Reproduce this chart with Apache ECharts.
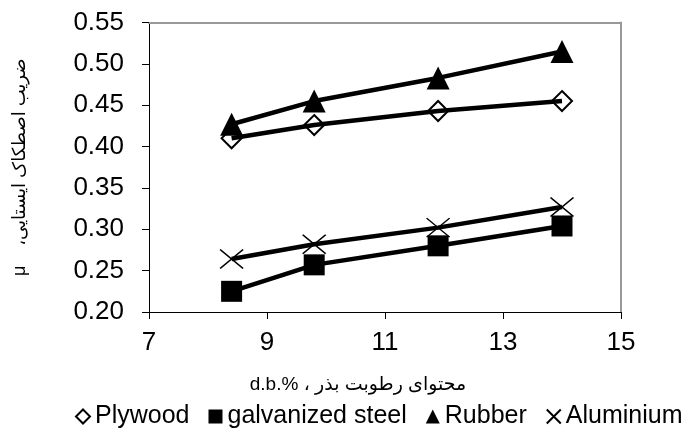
<!DOCTYPE html>
<html>
<head>
<meta charset="utf-8">
<script src="https://cdn.jsdelivr.net/npm/echarts@6/dist/echarts.min.js"></script>
<style>html,body{margin:0;padding:0;background:#fff}#c{width:693px;height:442px}</style>
</head>
<body>
<div id="c"></div>
<script>
var moisture = [8.4, 9.8, 11.9, 14.0];
var plywood = [0.410, 0.426, 0.443, 0.455];
var galvanized = [0.225, 0.257, 0.280, 0.304];
var rubber = [0.427, 0.455, 0.483, 0.515];
var aluminium = [0.264, 0.282, 0.302, 0.327];
var seriesNames = ['Plywood', 'galvanized steel', 'Rubber', 'Aluminium'];
var xTicks = [7, 9, 11, 13, 15];
var yTicks = [0.20, 0.25, 0.30, 0.35, 0.40, 0.45, 0.50, 0.55];
var xName = 'd.b.% \u060C محتوای رطوبت بذر';
var yName = 'μ    ضریب اصطکاک ایستایی\u060C\u200F';

var FONT = "'Liberation Sans', Arial, 'DejaVu Sans', sans-serif";
var XPATH = 'path://M0,0L20,20M20,0L0,20';

function pairs(ys) { return moisture.map(function (x, i) { return [x, ys[i]]; }); }

var chart = echarts.init(document.getElementById('c'), null, { renderer: 'canvas' });
var lineStyle = { color: '#000', width: 4.5 };
chart.setOption({
  animation: false,
  backgroundColor: '#fff',
  textStyle: { fontFamily: FONT, color: '#000' },
  grid: { left: 149, right: 72, top: 22.5, bottom: 130, containLabel: false },
  xAxis: [{
    type: 'value', min: xTicks[0], max: xTicks[xTicks.length - 1], interval: 2,
    name: xName, nameLocation: 'middle', nameGap: 63,
    nameTextStyle: { fontSize: 19, color: '#000', fontFamily: FONT, padding: [0, 54, 0, 0] },
    axisLine: { show: true, lineStyle: { color: '#000', width: 1 } },
    axisTick: { show: true, length: 7, inside: false, lineStyle: { color: '#000' } },
    axisLabel: { fontSize: 26, color: '#000', margin: 18, fontFamily: FONT },
    splitLine: { show: false }
  }, {
    type: 'value', position: 'top', min: xTicks[0], max: xTicks[xTicks.length - 1],
    axisLine: { show: true, lineStyle: { color: '#999', width: 2 } },
    axisTick: { show: false }, axisLabel: { show: false }, splitLine: { show: false }
  }],
  yAxis: [{
    type: 'value', min: 0.20, max: 0.55, interval: 0.05,
    name: yName, nameLocation: 'middle', nameGap: 120, nameRotate: 90,
    nameTextStyle: { fontSize: 18, color: '#000', fontFamily: FONT },
    axisLine: { show: true, lineStyle: { color: '#000', width: 1 } },
    axisTick: { show: true, length: 7, inside: false, lineStyle: { color: '#000' } },
    axisLabel: { fontSize: 26, color: '#000', margin: 25, fontFamily: FONT,
      formatter: function (v) { return v.toFixed(2); } },
    splitLine: { show: false }
  }, {
    type: 'value', position: 'right', min: 0.20, max: 0.55,
    axisLine: { show: true, lineStyle: { color: '#999', width: 2 } },
    axisTick: { show: false }, axisLabel: { show: false }, splitLine: { show: false }
  }],
  legend: {
    left: 75, right: 0, top: 404, padding: 0, itemWidth: 14, itemHeight: 14, itemGap: 19,
    textStyle: { fontSize: 25, color: '#000', fontFamily: FONT },
    data: [
      { name: seriesNames[0], icon: 'diamond' },
      { name: seriesNames[1], icon: 'rect' },
      { name: seriesNames[2], icon: 'triangle' },
      { name: seriesNames[3], icon: XPATH }
    ]
  },
  series: [
    { name: seriesNames[0], type: 'line', data: pairs(plywood), symbol: 'diamond', symbolSize: 20,
      lineStyle: lineStyle, z: 3,
      itemStyle: { color: 'rgba(255,255,255,0)', borderColor: '#000', borderWidth: 2 } },
    { name: seriesNames[1], type: 'line', data: pairs(galvanized), symbol: 'rect', symbolSize: 21,
      lineStyle: lineStyle, z: 3,
      itemStyle: { color: '#000', borderColor: '#000', borderWidth: 0 } },
    { name: seriesNames[2], type: 'line', data: pairs(rubber), symbol: 'triangle', symbolSize: 23,
      lineStyle: lineStyle, z: 3,
      itemStyle: { color: '#000', borderColor: '#000', borderWidth: 0 } },
    { name: seriesNames[3], type: 'line', data: pairs(aluminium), symbol: XPATH, symbolSize: [23, 19],
      lineStyle: lineStyle, z: 3,
      itemStyle: { color: 'rgba(255,255,255,0)', borderColor: '#000', borderWidth: 1.5 } }
  ]
});
</script>
</body>
</html>
